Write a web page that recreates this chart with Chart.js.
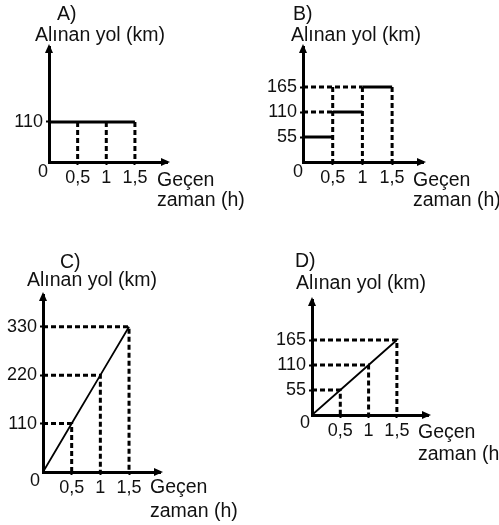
<!DOCTYPE html>
<html>
<head>
<meta charset="utf-8">
<script src="https://cdn.jsdelivr.net/npm/chart.js@4/dist/chart.umd.min.js"></script>
<style>
  body { margin: 0; background: #fff; width: 499px; height: 525px; overflow: hidden; position: relative; }
  canvas { position: absolute; }
  .t { position: absolute; font-family: 'Liberation Sans', Arial, sans-serif; font-size: 19.5px; line-height: 1; color: #111; white-space: nowrap; }
  .z { font-size: 18px; }
</style>
</head>
<body>
<canvas id="chartA"></canvas>
<canvas id="chartB"></canvas>
<canvas id="chartC"></canvas>
<canvas id="chartD"></canvas>

<div class="t" style="left:57px;top:4px">A)</div>
<div class="t" style="left:35px;top:25px">Alınan yol (km)</div>
<div class="t z" style="left:38px;top:162px">0</div>
<div class="t" style="left:157px;top:170px">Geçen</div>
<div class="t" style="left:157px;top:190px">zaman (h)</div>

<div class="t" style="left:293px;top:4px">B)</div>
<div class="t" style="left:291px;top:25px">Alınan yol (km)</div>
<div class="t z" style="left:293px;top:162px">0</div>
<div class="t" style="left:413px;top:170px">Geçen</div>
<div class="t" style="left:413px;top:190px">zaman (h)</div>

<div class="t" style="left:60px;top:252px">C)</div>
<div class="t" style="left:27px;top:270px">Alınan yol (km)</div>
<div class="t z" style="left:30px;top:471px">0</div>
<div class="t" style="left:150px;top:477px">Geçen</div>
<div class="t" style="left:150px;top:501px">zaman (h)</div>

<div class="t" style="left:295px;top:251px">D)</div>
<div class="t" style="left:296px;top:273px">Alınan yol (km)</div>
<div class="t z" style="left:300px;top:413px">0</div>
<div class="t" style="left:418px;top:422px">Geçen</div>
<div class="t" style="left:418px;top:444px">zaman (h)</div>

<script>
// time axis (h)
const xTickValues = [0.5, 1, 1.5];
const xTickLabels = ['0,5', '1', '1,5'];

// A) constant distance
const aTimes = [0, 0.5, 1, 1.5];
const aDistance = [110, 110, 110, 110];
const aYTicks = [110];

// B) one level per half hour
const bTimes = [0, 0.5, 1, 1.5];
const bDistance = [55, 110, 165];
const bYTicks = [55, 110, 165];

// C) 220 km/h
const cTimes = [0, 0.5, 1, 1.5];
const cDistance = [0, 110, 220, 330];
const cYTicks = [110, 220, 330];

// D) 110 km/h
const dTimes = [0, 0.5, 1, 1.5];
const dDistance = [0, 55, 110, 165];
const dYTicks = [55, 110, 165];

Chart.defaults.font.family = "'Liberation Sans', Arial, sans-serif";
Chart.defaults.color = '#111';

const solid = (data, width) => ({ data, showLine: true, borderColor: '#000', borderWidth: width, pointRadius: 0 });
const dashed = (data) => ({ data, showLine: true, borderColor: '#000', borderWidth: 3, borderDash: [5, 3], pointRadius: 0 });

const axisArrows = {
  id: 'axisArrows',
  afterDraw(chart) {
    const { ctx, chartArea: a } = chart;
    ctx.save();
    ctx.fillStyle = '#000';
    ctx.beginPath();
    ctx.moveTo(a.left, a.top - 3);
    ctx.lineTo(a.left - 4, a.top + 6);
    ctx.lineTo(a.left + 4, a.top + 6);
    ctx.closePath();
    ctx.fill();
    ctx.beginPath();
    ctx.moveTo(a.right + 3, a.bottom);
    ctx.lineTo(a.right - 6, a.bottom - 4);
    ctx.lineTo(a.right - 6, a.bottom + 4);
    ctx.closePath();
    ctx.fill();
    ctx.restore();
  }
};

function makePanel(id, box, area, xMax, yMax, yTicks, datasets) {
  const canvas = document.getElementById(id);
  canvas.width = box.w;
  canvas.height = box.h;
  canvas.style.left = box.x + 'px';
  canvas.style.top = box.y + 'px';
  const yW = 45, xH = 30;
  const grid = { display: true, drawOnChartArea: false, drawTicks: true, tickLength: 3, tickWidth: 2, tickColor: '#000' };
  const border = { display: true, width: 3, color: '#000' };
  new Chart(canvas, {
    type: 'scatter',
    data: { datasets },
    options: {
      responsive: false,
      animation: false,
      devicePixelRatio: 1,
      layout: {
        padding: {
          left: area.l - box.x - yW,
          top: area.t - box.y,
          right: box.x + box.w - area.r,
          bottom: box.y + box.h - area.b - xH
        }
      },
      plugins: { legend: { display: false }, tooltip: { enabled: false } },
      scales: {
        x: {
          type: 'linear', min: 0, max: xMax,
          grid, border,
          afterBuildTicks: (s) => { s.ticks = xTickValues.map(v => ({ value: v })); },
          afterFit: (s) => { s.height = xH; },
          ticks: {
            autoSkip: false, maxRotation: 0, padding: 2,
            font: { size: 18 }, color: '#111',
            callback: (v) => xTickLabels[xTickValues.indexOf(v)]
          }
        },
        y: {
          type: 'linear', min: 0, max: yMax,
          grid, border,
          afterBuildTicks: (s) => { s.ticks = yTicks.map(v => ({ value: v })); },
          afterFit: (s) => { s.width = yW; },
          ticks: { autoSkip: false, padding: 3, font: { size: 18 }, color: '#111' }
        }
      }
    },
    plugins: [axisArrows]
  });
}

// A
const aSets = [solid(aTimes.map((t, i) => ({ x: t, y: aDistance[i] })), 3)];
aTimes.forEach((t, i) => {
  if (t > 0) aSets.push(dashed([{ x: t, y: aDistance[i] }, { x: t, y: 0 }]));
});
makePanel('chartA', { x: 0, y: 0, w: 250, h: 250 }, { l: 49, t: 47, r: 167, b: 162 }, 2.06, 316, aYTicks, aSets);

// B
const bSets = [];
const bTop = Math.max(...bDistance);
bDistance.forEach((d, i) => {
  if (bTimes[i] > 0) bSets.push(dashed([{ x: 0, y: d }, { x: bTimes[i], y: d }]));
  bSets.push(dashed([{ x: bTimes[i + 1], y: bTop }, { x: bTimes[i + 1], y: 0 }]));
});
bDistance.forEach((d, i) => {
  bSets.push(solid([{ x: bTimes[i], y: d }, { x: bTimes[i + 1], y: d }], 3));
});
makePanel('chartB', { x: 250, y: 0, w: 249, h: 250 }, { l: 303, t: 47, r: 423, b: 162 }, 2.02, 253, bYTicks, bSets);

// C
const cSets = [solid(cTimes.map((t, i) => ({ x: t, y: cDistance[i] })), 1.8)];
cTimes.forEach((t, i) => {
  if (t > 0) cSets.push(dashed([{ x: 0, y: cDistance[i] }, { x: t, y: cDistance[i] }, { x: t, y: 0 }]));
});
makePanel('chartC', { x: 0, y: 250, w: 250, h: 275 }, { l: 43, t: 295, r: 160, b: 472 }, 2.04, 402, cYTicks, cSets);

// D
const dSets = [solid(dTimes.map((t, i) => ({ x: t, y: dDistance[i] })), 1.8)];
dTimes.forEach((t, i) => {
  if (t > 0) dSets.push(dashed([{ x: 0, y: dDistance[i] }, { x: t, y: dDistance[i] }, { x: t, y: 0 }]));
});
makePanel('chartD', { x: 250, y: 250, w: 249, h: 275 }, { l: 312, t: 300, r: 428, b: 415 }, 2.05, 253, dYTicks, dSets);
</script>
</body>
</html>
